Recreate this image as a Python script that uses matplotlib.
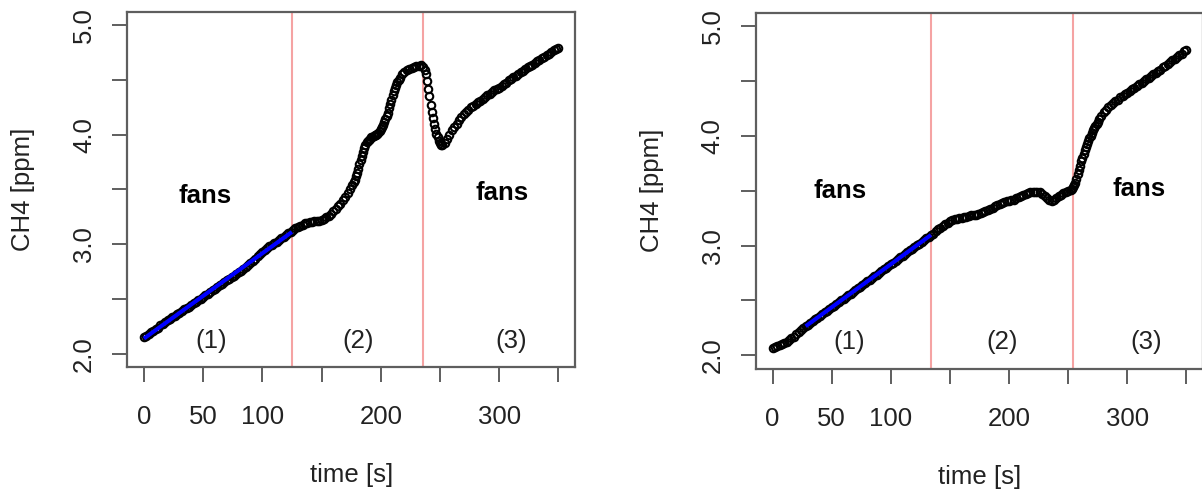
import numpy as np
import matplotlib
matplotlib.use('Agg')
import matplotlib.pyplot as plt

plt.rcParams['font.family'] = ['Liberation Sans', 'DejaVu Sans']

# ---- left run: time [s] and CH4 [ppm] ----
t_left = np.r_[0:176:2, 176:216, 216:236:2, 236:252, 252:352:2]
ch4_left = [
    # 0..124 (step 2)
    2.150, 2.165, 2.180, 2.195, 2.210, 2.225, 2.240, 2.260, 2.275, 2.290,
    2.305, 2.320, 2.335, 2.350, 2.360, 2.375, 2.390, 2.405, 2.420, 2.430,
    2.445, 2.460, 2.475, 2.490, 2.505, 2.520, 2.535, 2.550, 2.565, 2.580,
    2.595, 2.610, 2.625, 2.640, 2.655, 2.670, 2.685, 2.700, 2.715, 2.730,
    2.745, 2.760, 2.775, 2.790, 2.810, 2.830, 2.850, 2.870, 2.890, 2.910,
    2.930, 2.950, 2.965, 2.980, 2.995, 3.010, 3.025, 3.040, 3.055, 3.070,
    3.085, 3.100, 3.115,
    # 126..174 (step 2)
    3.130, 3.145, 3.160, 3.170, 3.180, 3.190, 3.195, 3.200, 3.205, 3.210,
    3.210, 3.215, 3.220, 3.230, 3.245, 3.260, 3.280, 3.300, 3.320, 3.345,
    3.370, 3.400, 3.430, 3.465, 3.500,
    # 176..215 (step 1)
    3.540, 3.565, 3.590, 3.620, 3.650, 3.690, 3.730, 3.770, 3.810, 3.845,
    3.880, 3.905, 3.930, 3.945, 3.955, 3.965, 3.975, 3.983, 3.990, 3.995,
    4.000, 4.010, 4.020, 4.035, 4.050, 4.070, 4.090, 4.115, 4.140, 4.170,
    4.200, 4.240, 4.280, 4.320, 4.360, 4.395, 4.430, 4.455, 4.480, 4.500,
    # 216..234 (step 2)
    4.520, 4.550, 4.575, 4.590, 4.600, 4.610, 4.620, 4.625, 4.630, 4.635,
    # 236..251 (step 1)
    4.620, 4.590, 4.550, 4.490, 4.420, 4.350, 4.270, 4.210, 4.150, 4.100,
    4.050, 4.010, 3.975, 3.945, 3.920, 3.905,
    # 252..350 (step 2)
    3.905, 3.925, 3.960, 4.000, 4.040, 4.070, 4.100, 4.135, 4.165, 4.190,
    4.210, 4.230, 4.250, 4.265, 4.280, 4.295, 4.310, 4.325, 4.345, 4.360,
    4.375, 4.390, 4.405, 4.415, 4.430, 4.445, 4.460, 4.475, 4.495, 4.510,
    4.525, 4.540, 4.555, 4.570, 4.585, 4.600, 4.615, 4.630, 4.640, 4.655,
    4.670, 4.685, 4.700, 4.710, 4.725, 4.740, 4.755, 4.770, 4.780, 4.795,
]

# ---- right run ----
t_right = np.r_[0:254:2, 253:276, 276:352:2]
ch4_right = [
    # 0..134 (step 2)
    2.070, 2.075, 2.085, 2.095, 2.105, 2.115, 2.125, 2.140, 2.155, 2.170,
    2.190, 2.210, 2.230, 2.250,
    2.265, 2.281, 2.296, 2.312, 2.328, 2.344, 2.359, 2.375, 2.391, 2.406,
    2.422, 2.438, 2.453, 2.469, 2.485, 2.501, 2.516, 2.532, 2.548, 2.563,
    2.579, 2.595, 2.610, 2.626, 2.642, 2.658, 2.673, 2.689, 2.705, 2.720,
    2.736, 2.752, 2.767, 2.783, 2.799, 2.815, 2.830, 2.846, 2.862, 2.877,
    2.893, 2.909, 2.924, 2.940, 2.956, 2.972, 2.987, 3.003, 3.019, 3.034,
    3.050, 3.066, 3.081, 3.097,
    # 136..252 (step 2)
    3.110, 3.130, 3.150, 3.165, 3.180, 3.195, 3.210, 3.220, 3.230, 3.240,
    3.245, 3.250, 3.255, 3.260, 3.265, 3.270, 3.275, 3.280, 3.280, 3.285,
    3.295, 3.305, 3.315, 3.325, 3.335, 3.345, 3.360, 3.370, 3.380, 3.390,
    3.400, 3.405, 3.410, 3.415, 3.420, 3.430, 3.440, 3.450, 3.460, 3.470,
    3.480, 3.485, 3.490, 3.490, 3.490, 3.485, 3.470, 3.450, 3.435, 3.420,
    3.410, 3.415, 3.430, 3.450, 3.465, 3.480, 3.490, 3.500, 3.510,
    # 253..275 (step 1)
    3.520, 3.530, 3.550, 3.570, 3.610, 3.650, 3.690, 3.730, 3.770, 3.800,
    3.835, 3.870, 3.900, 3.930, 3.955, 3.980, 4.000, 4.025, 4.050, 4.070,
    4.090, 4.110, 4.130,
    # 276..350 (step 2)
    4.150, 4.185, 4.215, 4.240, 4.260, 4.280, 4.300, 4.315, 4.330, 4.350,
    4.365, 4.380, 4.395, 4.410, 4.425, 4.440, 4.455, 4.470, 4.485, 4.500,
    4.515, 4.530, 4.545, 4.560, 4.575, 4.590, 4.605, 4.625, 4.640, 4.655,
    4.670, 4.690, 4.705, 4.720, 4.735, 4.750, 4.770, 4.785,
]

cuts_left = [125, 236]
cuts_right = [134, 254]
fit_left = (0, 125)
fit_right = (28, 134)

fans_left_x, fans_left_y = [52, 302], [3.44, 3.47]
fans_right_x, fans_right_y = [57, 310], [3.50, 3.52]
phase_left_x = [57, 181, 310]
phase_right_x = [65, 194, 316]
phase_y = 2.12
phase_labels = ['(1)', '(2)', '(3)']

xticks = [0, 50, 100, 150, 200, 250, 300, 350]
xtick_labels = ['0', '50', '100', '', '200', '', '300', '']
yticks = [2.0, 2.5, 3.0, 3.5, 4.0, 4.5, 5.0]
ytick_labels = ['2.0', '', '3.0', '', '4.0', '', '5.0']

box_col = '#5e5e5e'
txt_col = '#222222'
fs = 18.5


def panel(ax, t, v, cuts, fit, fans_x, fans_y, phase_x):
    t = np.asarray(t)
    v = np.asarray(v)
    for c in cuts:
        ax.axvline(c, color='#f5a3a3', lw=1.5, zorder=1)
    ax.plot(t, v, 'o', mfc='none', mec='black', ms=5.4, mew=1.5, zorder=2)
    m = (t >= fit[0]) & (t <= fit[1])
    coef = np.polyfit(t[m], v[m], 1)
    ax.plot(fit, np.polyval(coef, fit), color='blue', lw=2.9, zorder=3,
            solid_capstyle='butt')
    for x, y in zip(fans_x, fans_y):
        ax.text(x, y, 'fans', fontsize=fs, fontweight='bold', color='black',
                ha='center', va='center')
    for x, lab in zip(phase_x, phase_labels):
        ax.text(x, phase_y, lab, fontsize=fs, color=txt_col,
                ha='center', va='center')
    ax.set_xlim(-14, 364)
    ax.set_ylim(1.88, 5.12)
    ax.set_xticks(xticks)
    ax.set_xticklabels(xtick_labels)
    ax.set_yticks(yticks)
    ax.set_yticklabels(ytick_labels, rotation=90, va='center')
    ax.tick_params(axis='both', direction='out', length=10.5, width=1.4,
                   color=box_col, labelsize=fs, labelcolor=txt_col)
    ax.tick_params(axis='x', pad=17)
    ax.tick_params(axis='y', pad=12)
    for s in ax.spines.values():
        s.set_color(box_col)
        s.set_linewidth(1.6)
    ax.text(0.5, -0.304, 'time [s]', transform=ax.transAxes, fontsize=fs,
            color=txt_col, ha='center', va='center')
    ax.text(-0.233, 0.5, 'CH4 [ppm]', transform=ax.transAxes, fontsize=fs,
            color=txt_col, ha='center', va='center', rotation=90)


fig = plt.figure(figsize=(12.02, 4.94), dpi=100)
ax1 = fig.add_axes([127.3 / 1202, 127 / 494, 447.7 / 1202, 355 / 494])
ax2 = fig.add_axes([756 / 1202, 125.5 / 494, 447 / 1202, 355.5 / 494])

panel(ax1, t_left, ch4_left, cuts_left, fit_left, fans_left_x, fans_left_y, phase_left_x)
panel(ax2, t_right, ch4_right, cuts_right, fit_right, fans_right_x, fans_right_y, phase_right_x)

fig.savefig('out.png', dpi=100)
